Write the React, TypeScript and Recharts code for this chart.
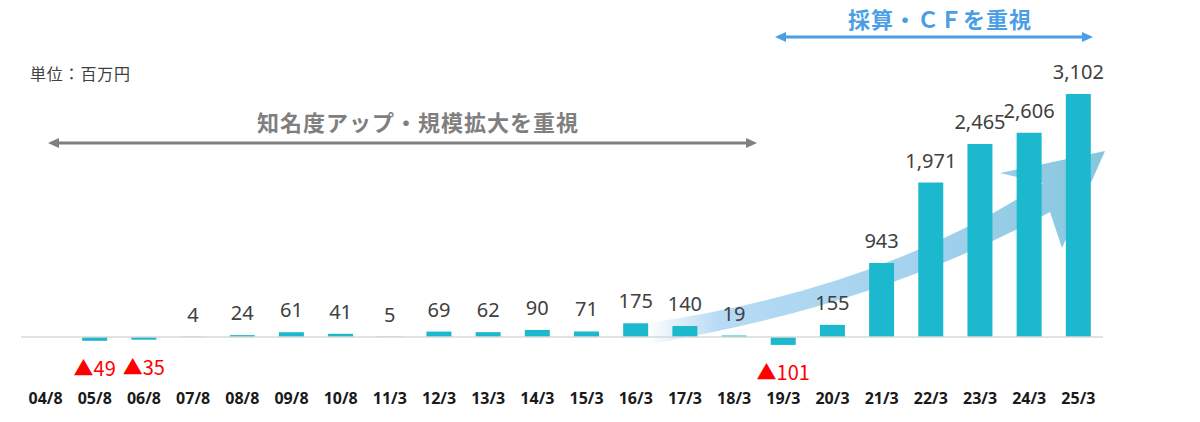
import React from 'react';
import { BarChart, Bar, XAxis, YAxis, ReferenceLine, LabelList } from 'recharts';

const categories = ['04/8','05/8','06/8','07/8','08/8','09/8','10/8','11/3','12/3','13/3','14/3','15/3','16/3','17/3','18/3','19/3','20/3','21/3','22/3','23/3','24/3','25/3'];
const values: (number | null)[] = [null, -49, -35, 4, 24, 61, 41, 5, 69, 62, 90, 71, 175, 140, 19, -101, 155, 943, 1971, 2465, 2606, 3102];
const unitLabel = '単位：百万円';
const phase1Label = '知名度アップ・規模拡大を重視';
const phase2Label = '採算・ＣＦを重視';

const data = categories.map((c, i) => ({ name: c, value: values[i] }));

const FONT = '"Noto Sans CJK JP", "Noto Sans", sans-serif';
const NUMFONT = '"Noto Sans", "Noto Sans CJK JP", sans-serif';

const ValueLabel = (props: any) => {
  const { x, y, width, height, value } = props;
  if (value === null || value === undefined) return null;
  const top = Math.min(y, y + height);
  const bottom = Math.max(y, y + height);
  const cx = x + width / 2;
  if (value >= 0) {
    return (
      <text x={cx} y={top - 15} textAnchor="middle" fill="#404040" fontSize={20} fontFamily={NUMFONT}>
        {value.toLocaleString('en-US')}
      </text>
    );
  }
  return (
    <text x={cx} y={bottom + 35} textAnchor="middle" fill="#ff0000" fontSize={20} fontFamily={FONT}>
      {'▲' + Math.abs(value).toLocaleString('en-US')}
    </text>
  );
};

const Tick = (props: any) => {
  const { x, y, payload } = props;
  return (
    <text x={x} y={y + 24} textAnchor="middle" fill="#1a1a1a" fontSize={16} fontWeight="bold" fontFamily={NUMFONT}>
      {payload.value}
    </text>
  );
};

const Overlay = () => (
  <svg width={1200} height={422} style={{ position: 'absolute', left: -8, top: -8, pointerEvents: 'none', overflow: 'visible' }}>
    <defs>
      <linearGradient id="band" gradientUnits="userSpaceOnUse" x1={645} y1={0} x2={1105} y2={0}>
        <stop offset="0" stopColor="#ffffff" />
        <stop offset="0.16" stopColor="#b7dbf4" />
        <stop offset="0.6" stopColor="#a3d1ee" />
        <stop offset="1" stopColor="#86c7dd" />
      </linearGradient>
    </defs>
    <path
      d="M 648 323 Q 880 290 1043 183 L 1000 173 L 1105 151 L 1062 248 L 1050 212 Q 880 305 655 343 Z"
      fill="url(#band)"
    />
    <text x={30} y={80} fill="#404040" fontSize={16} letterSpacing={0.8} fontFamily={FONT}>{unitLabel}</text>
    <text x={418} y={131} textAnchor="middle" fill="#7f7f7f" fontSize={22} fontWeight="bold" letterSpacing={1} fontFamily={FONT}>{phase1Label}</text>
    <line x1={56} y1={143} x2={749} y2={143} stroke="#7f7f7f" strokeWidth={3} />
    <polygon points="48,143 59,138 59,148" fill="#7f7f7f" />
    <polygon points="757,143 746,138 746,148" fill="#7f7f7f" />
    <text x={940} y={28} textAnchor="middle" fill="#4a9ee6" fontSize={22} fontWeight="bold" letterSpacing={1} fontFamily={FONT}>{phase2Label}</text>
    <line x1={783} y1={37} x2={1085} y2={37} stroke="#4a9ee6" strokeWidth={3} />
    <polygon points="775,37 786,32 786,42" fill="#4a9ee6" />
    <polygon points="1093,37 1082,32 1082,42" fill="#4a9ee6" />
  </svg>
);

export default function App() {
  return (
    <div style={{ position: 'relative', width: 1184, height: 414 }}>
      <Overlay />
      <BarChart
        width={1180}
        height={410}
        data={data}
        margin={{ top: 52, right: 85, bottom: 8, left: 13 }}
        barSize={25}
      >
        <XAxis dataKey="name" axisLine={false} tickLine={false} tickSize={0} tickMargin={0} height={30} interval={0} tick={<Tick />} />
        <YAxis hide domain={[-549, 3536]} allowDataOverflow />
        <ReferenceLine y={0} stroke="#d9d9d9" strokeWidth={1.5} />
        <Bar dataKey="value" fill="#1bb8ce" isAnimationActive={false}>
          <LabelList dataKey="value" content={<ValueLabel />} />
        </Bar>
      </BarChart>
    </div>
  );
}
